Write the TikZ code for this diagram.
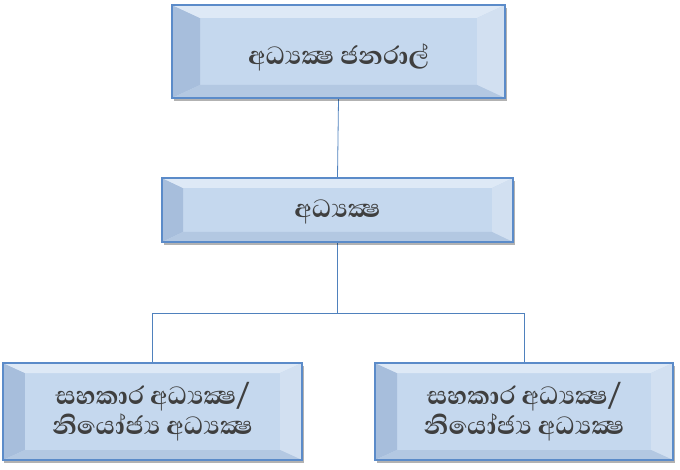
\documentclass[tikz,border=0pt]{standalone}
\usepackage{fontspec}
\newfontfamily\sinhfont[Script=Sinhala, BoldFont={Abhaya Libre Bold}]{Abhaya Libre}
\usetikzlibrary{shadows,backgrounds}
\definecolor{face}{HTML}{C5D8EE}
\definecolor{bevL}{HTML}{A7BEDC}
\definecolor{bevT}{HTML}{DEE9F6}
\definecolor{bevR}{HTML}{D2E0F1}
\definecolor{bevB}{HTML}{B3C8E2}
\definecolor{edge}{HTML}{5B8BC9}
\definecolor{conn}{HTML}{4F81BD}
\definecolor{txt}{HTML}{3F3F3F}
\tikzset{
  bevelbox/.style 2 args={rectangle, fill=face, draw=edge, line width=1.5bp,
    text=txt, font=\sinhfont\bfseries\fontsize{32bp}{30bp}\selectfont, align=center,
    drop shadow={shadow xshift=1.5bp, shadow yshift=-3bp, opacity=.3, fill=black},
    path picture={
      \path (path picture bounding box.north west) coordinate (pNW)
            (path picture bounding box.south west) coordinate (pSW)
            (path picture bounding box.north east) coordinate (pNE)
            (path picture bounding box.south east) coordinate (pSE);
      \path ([shift={(#1,#2)}]pNW) coordinate (iNW)
            ([shift={(#1,-#2)}]pSW) coordinate (iSW)
            ([shift={(-#1,#2)}]pNE) coordinate (iNE)
            ([shift={(-#1,-#2)}]pSE) coordinate (iSE);
      \fill[bevL] (pNW) -- (pSW) -- (iSW) -- (iNW) -- cycle;
      \fill[bevT] (pNW) -- (pNE) -- (iNE) -- (iNW) -- cycle;
      \fill[bevR] (pNE) -- (pSE) -- (iSE) -- (iNE) -- cycle;
      \fill[bevB] (pSW) -- (pSE) -- (iSE) -- (iSW) -- cycle;
    }},
  connline/.style={draw=conn, line width=0.8bp}
}
\begin{document}
\begin{tikzpicture}[x=1bp,y=-1bp]
\useasboundingbox (0,0) rectangle (680,470);
\node[bevelbox={28}{13}, minimum width=333bp, minimum height=93bp] (dg) at (338.5,51.5) {\raisebox{-6bp}[\height][\depth]{අධ්‍යක්‍ෂ ජනරාල්}};
\node[bevelbox={21}{10}, minimum width=351bp, minimum height=64bp] (dir) at (337.5,210) {\raisebox{-2bp}[\height][\depth]{අධ්‍යක්‍ෂ}};
\node[bevelbox={22}{10}, minimum width=299bp, minimum height=97bp] (bl) at (152.5,411.5) {සහකාර අධ්‍යක්‍ෂ/\\නියෝජ්‍ය අධ්‍යක්‍ෂ};
\node[bevelbox={22}{10}, minimum width=298bp, minimum height=97bp] (br) at (524,411.5) {සහකාර අධ්‍යක්‍ෂ/\\නියෝජ්‍ය අධ්‍යක්‍ෂ};
\coordinate (j) at (dir.south |- 0,313);
\begin{scope}[on background layer]
\draw[connline] (dg.south) -- (dir.north);
\draw[connline] (dir.south) -- (j);
\draw[connline] (j) -| (bl.north);
\draw[connline] (j) -| (br.north);
\end{scope}
\end{tikzpicture}
\end{document}
